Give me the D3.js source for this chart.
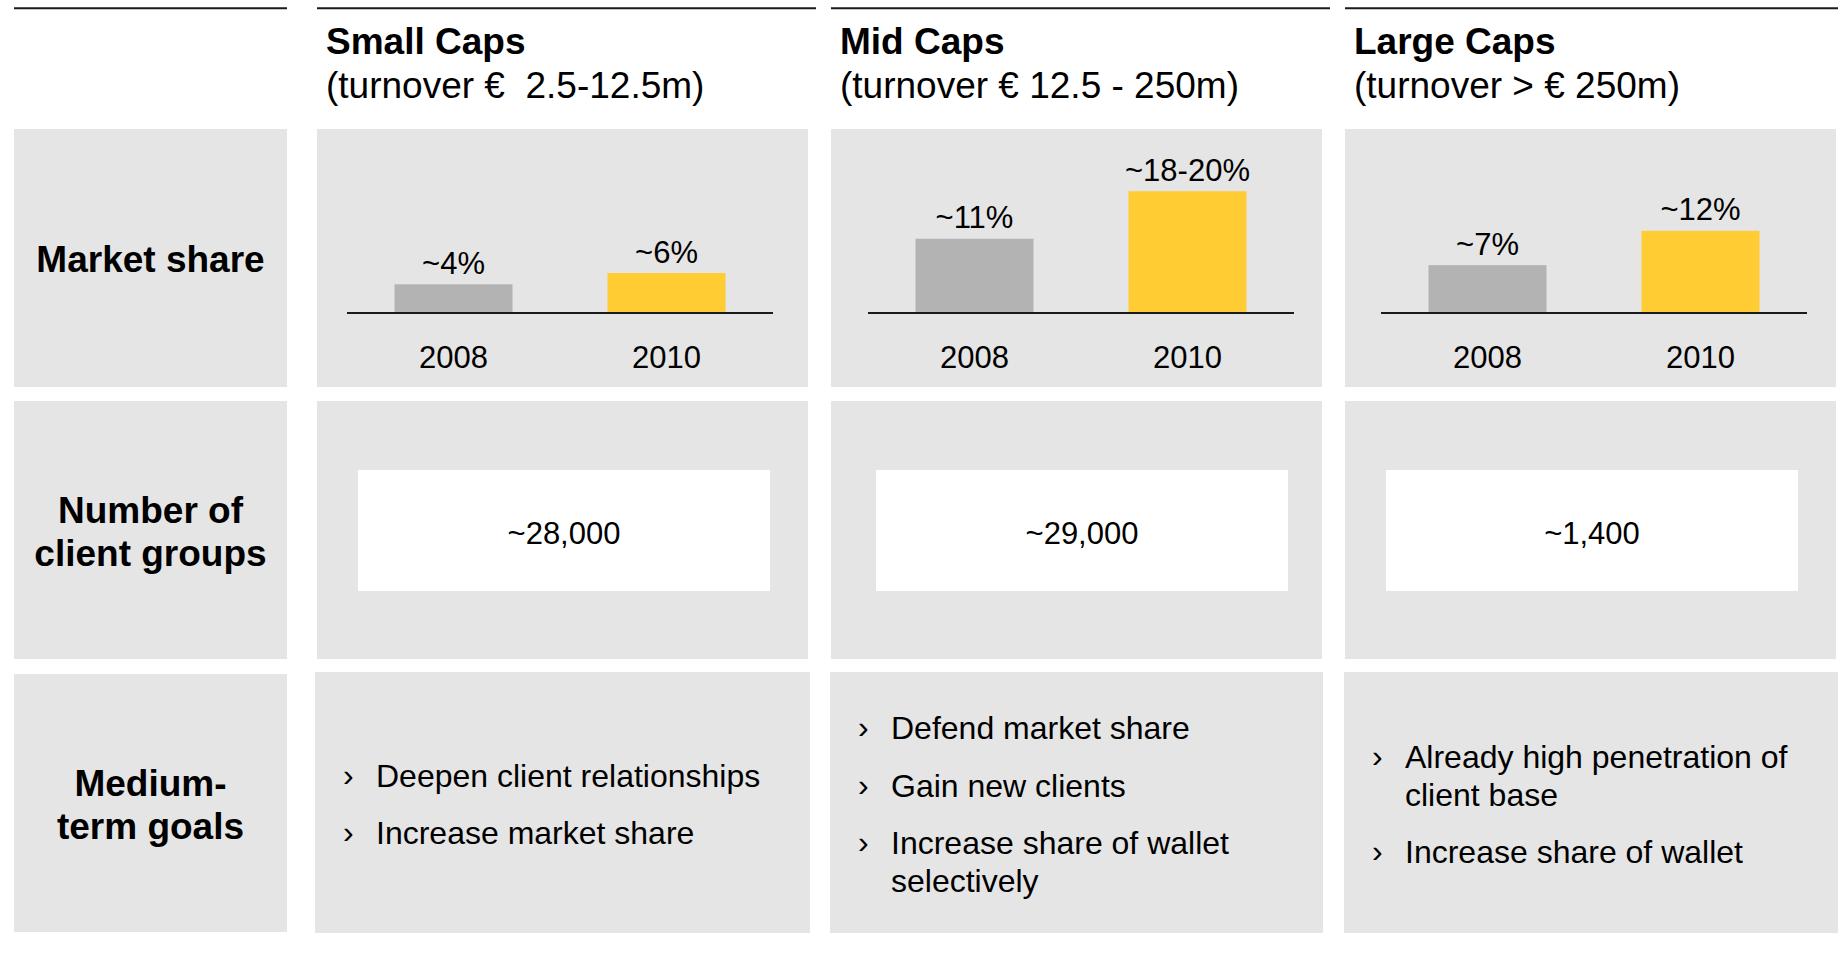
<!DOCTYPE html>
<html>
<head>
<meta charset="utf-8">
<script src="https://cdn.jsdelivr.net/npm/d3@7"></script>
<style>
  html, body { margin: 0; padding: 0; background: #ffffff; }
  svg { display: block; font-family: "Liberation Sans", Arial, Helvetica, sans-serif; }
  text { white-space: pre; }
</style>
</head>
<body>
<svg id="chart" width="1838" height="956"></svg>
<script>
// ---------------- DATA ----------------
const segments = ["Small Caps", "Mid Caps", "Large Caps"];
const turnover = ["(turnover \u20AC  2.5-12.5m)", "(turnover \u20AC 12.5 - 250m)", "(turnover > \u20AC 250m)"];
const rowLabels = [["Market share"], ["Number of", "client groups"], ["Medium-", "term goals"]];
const years = ["2008", "2010"];
const share2008 = [4.2, 11.1, 7.1];
const share2010 = [5.9, 18.3, 12.3];
const shareLabels2008 = ["~4%", "~11%", "~7%"];
const shareLabels2010 = ["~6%", "~18-20%", "~12%"];
const clientGroups = [28000, 29000, 1400];
const goals = [
  [["Deepen client relationships"], ["Increase market share"]],
  [["Defend market share"], ["Gain new clients"], ["Increase share of wallet", "selectively"]],
  [["Already high penetration of", "client base"], ["Increase share of wallet"]]
];

// ---------------- LAYOUT ----------------
const svg = d3.select("#chart");
const GREY_BG = "#e5e5e5", BAR_GREY = "#b3b3b3", BAR_YELLOW = "#ffcc33", INK = "#000000";

const labelCol = { x0: 14, x1: 287 };
const colX = [317, 831, 1345];
const colW = 491;
const rows = [ { y0: 129, y1: 387 }, { y0: 401, y1: 659 }, { y0: 674, y1: 932 } ];
const row3Cols = [ { x0: 315, x1: 810 }, { x0: 830, x1: 1323 }, { x0: 1344, x1: 1838 } ];
const ruleSpans = [[14, 287], [317, 816], [831, 1330], [1345, 1838]];
const axisLeft = [347, 868, 1381];
const whiteBoxX = [358, 876, 1386];
const axisW = 426;
const axisY = 313;

// top rules
svg.selectAll("line.rule").data(ruleSpans).join("line")
  .attr("class", "rule")
  .attr("x1", d => d[0]).attr("x2", d => d[1])
  .attr("y1", 8.3).attr("y2", 8.3)
  .attr("stroke", "#1a1a1a").attr("stroke-width", 2);

// headers
const headers = svg.selectAll("g.header").data(segments).join("g")
  .attr("class", "header")
  .attr("transform", (d, i) => `translate(${colX[i] + 9},0)`);
headers.append("text").attr("y", 53.5).attr("font-size", 37).attr("font-weight", "bold")
  .attr("fill", INK).text(d => d);
headers.append("text").attr("y", 97.5).attr("font-size", 37)
  .attr("fill", INK).text((d, i) => turnover[i]);

// row label boxes
rows.forEach((r, ri) => {
  svg.append("rect").attr("x", labelCol.x0).attr("y", r.y0)
    .attr("width", labelCol.x1 - labelCol.x0).attr("height", r.y1 - r.y0)
    .attr("fill", GREY_BG);
  const lines = rowLabels[ri];
  const cy = (r.y0 + r.y1) / 2;
  const lh = 43.3;
  lines.forEach((ln, li) => {
    const c = cy + (li - (lines.length - 1) / 2) * lh;
    svg.append("text").attr("x", (labelCol.x0 + labelCol.x1) / 2).attr("y", c + 0.36 * 37 + 1)
      .attr("text-anchor", "middle").attr("font-size", 37).attr("font-weight", "bold")
      .attr("fill", INK).text(ln);
  });
});

// column boxes rows 1 & 2
[0, 1].forEach(ri => {
  colX.forEach(x => {
    svg.append("rect").attr("x", x).attr("y", rows[ri].y0)
      .attr("width", colW).attr("height", rows[ri].y1 - rows[ri].y0).attr("fill", GREY_BG);
  });
});
// column boxes row 3
row3Cols.forEach(c => {
  svg.append("rect").attr("x", c.x0).attr("y", 672)
    .attr("width", c.x1 - c.x0).attr("height", 933 - 672).attr("fill", GREY_BG);
});

// ---------------- BAR CHARTS ----------------
const y = d3.scaleLinear().domain([0, 20]).range([axisY - 1, axisY - 1 - 132]);
segments.forEach((seg, i) => {
  const x = d3.scaleBand().domain(years).range([axisLeft[i], axisLeft[i] + axisW])
    .paddingInner(0.446).paddingOuter(0.223);
  const vals = [
    { year: "2008", v: share2008[i], label: shareLabels2008[i], color: BAR_GREY },
    { year: "2010", v: share2010[i], label: shareLabels2010[i], color: BAR_YELLOW }
  ];
  const g = svg.append("g");
  g.selectAll("rect").data(vals).join("rect")
    .attr("x", d => x(d.year)).attr("width", x.bandwidth())
    .attr("y", d => y(d.v)).attr("height", d => y(0) - y(d.v))
    .attr("fill", d => d.color);
  g.selectAll("text.val").data(vals).join("text")
    .attr("class", "val")
    .attr("x", d => x(d.year) + x.bandwidth() / 2)
    .attr("y", d => y(d.v) - 10.5)
    .attr("text-anchor", "middle").attr("font-size", 31).attr("fill", INK)
    .text(d => d.label);
  // axis
  const axis = d3.axisBottom(x).tickSize(0).tickPadding(0);
  const ag = g.append("g").attr("transform", `translate(0,${axisY})`).call(axis);
  ag.select(".domain").attr("stroke", "#1a1a1a").attr("stroke-width", 2)
    .attr("d", `M${axisLeft[i]},0H${axisLeft[i] + axisW}`);
  ag.selectAll(".tick text").attr("font-size", 31).attr("fill", INK)
    .attr("font-family", "\"Liberation Sans\", Arial, sans-serif")
    .attr("dy", null).attr("y", 55);
});

// ---------------- CLIENT GROUPS ----------------
const fmt = d3.format(",");
whiteBoxX.forEach((bx, i) => {
  const bw = 412, by = 470, bh = 121;
  svg.append("rect").attr("x", bx).attr("y", by).attr("width", bw).attr("height", bh).attr("fill", "#ffffff");
  svg.append("text").attr("x", bx + bw / 2).attr("y", by + bh / 2 + 0.36 * 31 + 2)
    .attr("text-anchor", "middle").attr("font-size", 31).attr("fill", INK)
    .text("~" + fmt(clientGroups[i]));
});

// ---------------- GOALS ----------------
const lineStep = 38, paraGap = 19.4, goalFont = 32;
goals.forEach((paras, i) => {
  const c = row3Cols[i];
  const positions = [];
  let pos = 0;
  paras.forEach((p, pi) => {
    p.forEach((ln, li) => {
      positions.push({ text: ln, offset: pos, bullet: li === 0 });
      if (li < p.length - 1) pos += lineStep;
    });
    if (pi < paras.length - 1) pos += lineStep + paraGap;
  });
  const centerY = 804;
  const mid = pos / 2;
  positions.forEach(p => {
    const base = centerY - mid + p.offset + 0.36 * goalFont;
    if (p.bullet) {
      svg.append("text").attr("x", c.x0 + 28).attr("y", base - 1)
        .attr("font-size", 32).attr("fill", INK).text("\u203A");
    }
    svg.append("text").attr("x", c.x0 + 61).attr("y", base)
      .attr("font-size", goalFont).attr("fill", INK).text(p.text);
  });
});
</script>
</body>
</html>
